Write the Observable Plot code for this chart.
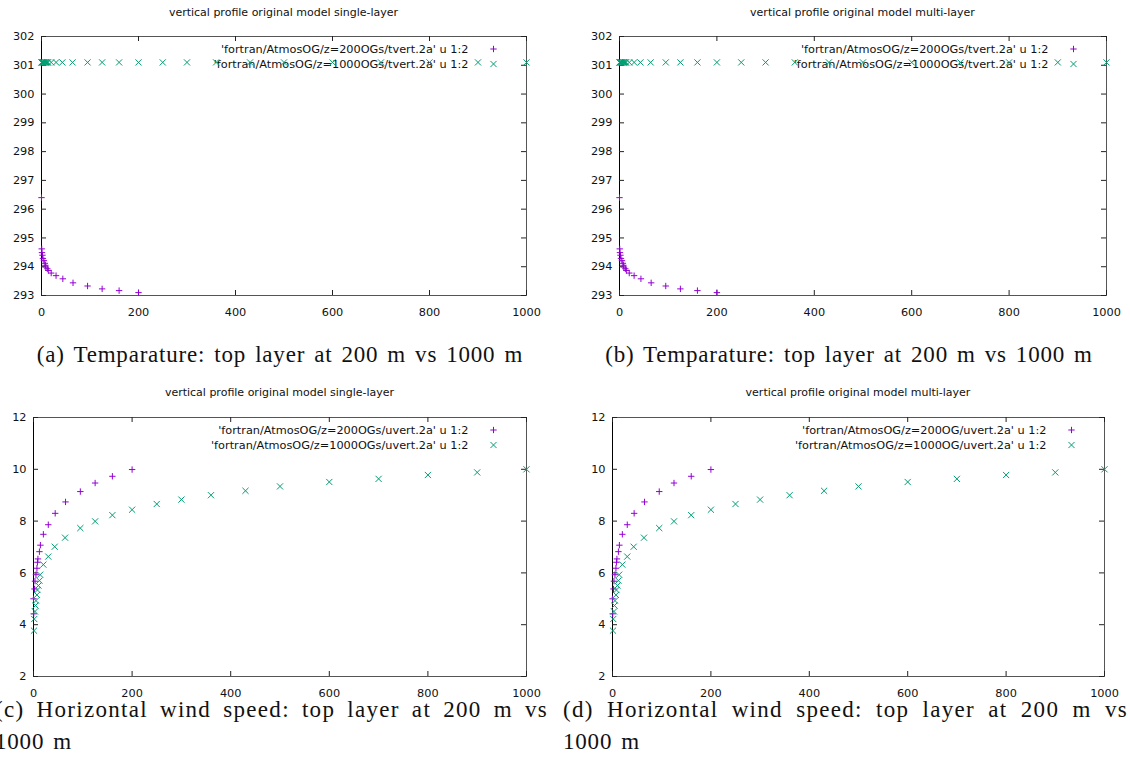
<!DOCTYPE html>
<html>
<head>
<meta charset="utf-8">
<script src="https://cdn.jsdelivr.net/npm/d3@7"></script>
<script src="https://cdn.jsdelivr.net/npm/@observablehq/plot@0.6"></script>
<style>
  html, body { margin: 0; padding: 0; background: #fff; }
  body { width: 1130px; height: 776px; position: relative; overflow: hidden; }
  .panel { position: absolute; }
  .title { position: absolute; font-family: "DejaVu Sans", sans-serif; font-size: 11px; color: #111; text-align: center; line-height: 16px; white-space: nowrap; }
  .cap { position: absolute; font-family: "Liberation Serif", serif; font-size: 23px; color: #111; line-height: 22px; white-space: nowrap; letter-spacing: 0.8px; word-spacing: 2.5px; }
  .just { text-align: justify; text-align-last: justify; letter-spacing: 1.3px; }
</style>
</head>
<body>
<script>
// ---------- data ----------
const xTicks = [0, 200, 400, 600, 800, 1000];
const tempTicks = [293, 294, 295, 296, 297, 298, 299, 300, 301, 302];
const windTicks = [2, 4, 6, 8, 10, 12];

// temperature, top layer at 200 m
const zTemp200 = [0, 0.5, 1, 2, 3, 5, 7, 8, 9, 12, 14, 20, 30, 44, 65, 95, 125, 160, 200];
const tTemp200 = [296.4, 294.62, 294.49, 294.40, 294.29, 294.21, 294.12, 294.05, 293.99, 293.93, 293.87, 293.78, 293.69, 293.58, 293.44, 293.33, 293.23, 293.17, 293.10];
// temperature, top layer at 1000 m
const zTemp1000 = [0, 1, 1.5, 3, 4, 5, 7, 8, 10, 12, 13.5, 20, 30, 43, 64, 95, 125, 160, 200, 250, 300, 360, 430, 500, 600, 700, 800, 900, 1000];
const tTemp1000 = [301.1, 301.1, 301.1, 301.1, 301.1, 301.1, 301.1, 301.1, 301.1, 301.1, 301.1, 301.1, 301.1, 301.1, 301.1, 301.1, 301.1, 301.1, 301.1, 301.1, 301.1, 301.1, 301.1, 301.1, 301.1, 301.1, 301.1, 301.1, 301.1];

// horizontal wind speed, top layer at 200 m
const zWind200 = [0.5, 0, 2, 3, 5, 7, 8, 9, 12, 14, 20, 30, 44, 65, 95, 125, 160, 200];
const uWind200 = [4.42, 5.0, 5.38, 5.68, 5.93, 6.18, 6.41, 6.54, 6.82, 7.07, 7.49, 7.86, 8.30, 8.74, 9.14, 9.47, 9.73, 9.99];
// horizontal wind speed, top layer at 1000 m
const zWind1000 = [1, 1.5, 3, 4, 5, 7, 8, 10, 12, 13.5, 20, 30, 43, 64, 95, 125, 160, 200, 250, 300, 360, 430, 500, 600, 700, 800, 900, 1000];
const uWind1000 = [3.77, 4.22, 4.51, 4.74, 4.93, 5.15, 5.34, 5.51, 5.70, 5.93, 6.32, 6.63, 7.01, 7.36, 7.73, 7.99, 8.23, 8.44, 8.66, 8.83, 9.00, 9.17, 9.34, 9.51, 9.63, 9.78, 9.88, 10.0];

const purple = "#9400d3";
const green = "#009e73";

const panels = [
  { id: "a", left: 0, top: 0, ml: 41, mr: 39, mt: 36, mb: 35, yDomain: [293, 302], yTicks: tempTicks,
    title: "vertical profile original model single-layer",
    s1: [zTemp200, tTemp200], s2: [zTemp1000, tTemp1000],
    l1: "'fortran/AtmosOG/z=200OGs/tvert.2a' u 1:2", l2: "'fortran/AtmosOG/z=1000OGs/tvert.2a' u 1:2" },
  { id: "b", left: 565, top: 0, ml: 54, mr: 24, mt: 36, mb: 35, yDomain: [293, 302], yTicks: tempTicks,
    title: "vertical profile original model multi-layer",
    s1: [zTemp200, tTemp200], s2: [zTemp1000, tTemp1000],
    l1: "'fortran/AtmosOG/z=200OGs/tvert.2a' u 1:2", l2: "'fortran/AtmosOG/z=1000OGs/tvert.2a' u 1:2" },
  { id: "c", left: 0, top: 380, ml: 33, mr: 39, mt: 37, mb: 34, yDomain: [2, 12], yTicks: windTicks,
    title: "vertical profile original model single-layer",
    s1: [zWind200, uWind200], s2: [zWind1000, uWind1000],
    l1: "'fortran/AtmosOG/z=200OGs/uvert.2a' u 1:2", l2: "'fortran/AtmosOG/z=1000OGs/uvert.2a' u 1:2" },
  { id: "d", left: 565, top: 380, ml: 47, mr: 26, mt: 37, mb: 34, yDomain: [2, 12], yTicks: windTicks,
    title: "vertical profile original model multi-layer",
    s1: [zWind200, uWind200], s2: [zWind1000, uWind1000],
    l1: "'fortran/AtmosOG/z=200OG/uvert.2a' u 1:2", l2: "'fortran/AtmosOG/z=1000OG/uvert.2a' u 1:2" }
];

const W = 565, H = 330;
for (const p of panels) {
  const fw = W - p.ml - p.mr, fh = H - p.mt - p.mb;
  const d1 = p.s1[0].map((z, i) => ({x: z, y: p.s1[1][i]}));
  const d2 = p.s2[0].map((z, i) => ({x: z, y: p.s2[1][i]}));
  const chart = Plot.plot({
    width: W, height: H,
    marginLeft: p.ml, marginRight: p.mr, marginTop: p.mt, marginBottom: p.mb,
    style: { fontFamily: "DejaVu Sans, sans-serif", fontSize: "11.3px", background: "transparent", overflow: "visible", color: "#111" },
    x: { domain: [0, 1000], ticks: xTicks, label: null },
    y: { domain: p.yDomain, ticks: p.yTicks, label: null },
    marks: [
      Plot.frame({ stroke: "#555" }),
      Plot.ruleX([0], { stroke: "#000" }),
      Plot.tickY(p.yTicks, { y: d => d, insetRight: fw - 5, stroke: "#222" }),
      Plot.tickY(p.yTicks, { y: d => d, insetLeft: fw - 5, stroke: "#222" }),
      Plot.tickX(xTicks, { x: d => d, insetBottom: fh - 5, stroke: "#222" }),
      Plot.tickX(xTicks, { x: d => d, insetTop: fh - 5, stroke: "#222" }),
      Plot.axisY({ ticks: p.yTicks, tickSize: 0, tickPadding: 7, label: null, tickFormat: d => String(d) }),
      Plot.axisX({ ticks: xTicks, tickSize: 0, tickPadding: 12, label: null, tickFormat: d => String(d) }),
      Plot.text([p.l1], { text: d => d, frameAnchor: "top-right", dx: -58, dy: 12.5, textAnchor: "end", lineAnchor: "middle", fill: "#111" }),
      Plot.text([p.l2], { text: d => d, frameAnchor: "top-right", dx: -58, dy: 27.5, textAnchor: "end", lineAnchor: "middle", fill: "#111" }),
      Plot.dot([0], { frameAnchor: "top-right", dx: -33, dy: 12.5, symbol: "plus", r: 2.2, stroke: purple, strokeWidth: 1 }),
      Plot.dot([0], { frameAnchor: "top-right", dx: -33, dy: 27.5, symbol: "times", r: 2.9, stroke: green, strokeWidth: 1 }),
      Plot.dot(d1, { x: "x", y: "y", symbol: "plus", r: 2.2, stroke: purple, strokeWidth: 1 }),
      Plot.dot(d2, { x: "x", y: "y", symbol: "times", r: 2.9, stroke: green, strokeWidth: 1 })
    ]
  });
  const div = document.createElement("div");
  div.className = "panel";
  div.style.left = p.left + "px";
  div.style.top = p.top + "px";
  div.appendChild(chart);
  document.body.appendChild(div);

  const t = document.createElement("div");
  t.className = "title";
  t.textContent = p.title;
  const cx = p.left + p.ml + fw / 2;
  t.style.left = (cx - 200) + "px";
  t.style.width = "400px";
  t.style.top = (p.top + 5) + "px";
  document.body.appendChild(t);
}

// captions
function cap(text, left, top, width, cls) {
  const c = document.createElement("div");
  c.className = "cap" + (cls ? " " + cls : "");
  c.textContent = text;
  c.style.left = left + "px";
  c.style.top = top + "px";
  if (width) c.style.width = width + "px";
  if (cls === "center") c.style.textAlign = "center";
  document.body.appendChild(c);
}
cap("(a) Temparature: top layer at 200 m vs 1000 m", 0, 344, 560, "center");
cap("(b) Temparature: top layer at 200 m vs 1000 m", 568, 344, 562, "center");
cap("(c) Horizontal wind speed: top layer at 200 m vs", -5, 699, 553, "just");
cap("1000 m", -5, 731, null, "");
cap("(d) Horizontal wind speed: top layer at 200 m vs", 563, 699, 565, "just");
cap("1000 m", 563, 731, null, "");
</script>
</body>
</html>
